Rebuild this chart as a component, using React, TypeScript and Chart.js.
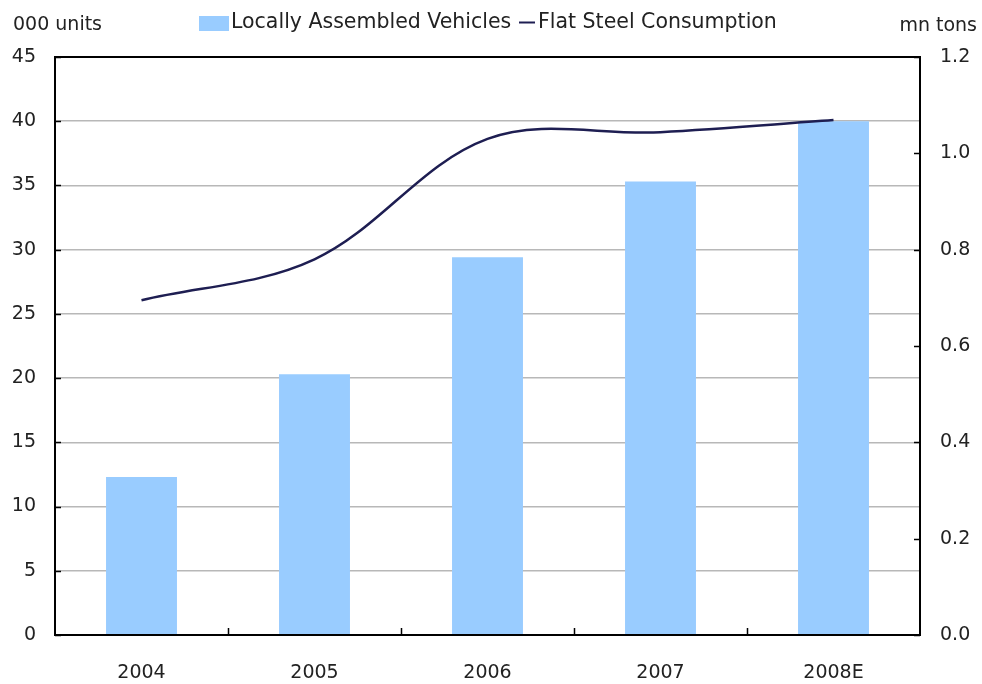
import React, { useEffect, useRef } from "react";
import { Chart, registerables } from "chart.js";

Chart.register(...registerables);

const categories = ["2004", "2005", "2006", "2007", "2008E"];
const vehicles = [12.3, 20.3, 29.4, 35.3, 40.0];
const steel = [0.695, 0.78, 1.03, 1.044, 1.069];
const seriesNames = ["Locally Assembled Vehicles", "Flat Steel Consumption"];
const leftAxisTitle = "000 units";
const rightAxisTitle = "mn tons";
const leftRange = [0, 45, 5];
const rightRange = [0, 1.2, 0.2];

const BAR_COLOR = "#99ccff";
const LINE_COLOR = "#1e1e52";
const TEXT_COLOR = "#222222";
const FONT = "DejaVu Sans";

const framePlugin = {
  id: "frame",
  afterDatasetsDraw(chart: any) {
    const { ctx, chartArea } = chart;
    const { left, right, top, bottom } = chartArea;
    const x = chart.scales.x;
    const y = chart.scales.y;
    const y1 = chart.scales.y1;
    ctx.save();
    ctx.strokeStyle = "#000000";
    ctx.lineWidth = 1.5;
    ctx.beginPath();
    y.ticks.forEach((t: any) => {
      const py = Math.round(y.getPixelForValue(t.value)) + 0.5;
      ctx.moveTo(left, py);
      ctx.lineTo(left + 6, py);
    });
    y1.ticks.forEach((t: any) => {
      const py = Math.round(y1.getPixelForValue(t.value)) + 0.5;
      ctx.moveTo(right, py);
      ctx.lineTo(right - 6, py);
    });
    for (let i = 0; i < categories.length - 1; i++) {
      const px = Math.round((x.getPixelForValue(i) + x.getPixelForValue(i + 1)) / 2) + 0.5;
      ctx.moveTo(px, bottom);
      ctx.lineTo(px, bottom - 7);
    }
    ctx.stroke();
    ctx.lineWidth = 2;
    ctx.strokeRect(left, top, right - left, bottom - top);
    ctx.restore();
  },
  afterDraw(chart: any) {
    const { ctx } = chart;
    ctx.save();
    ctx.fillStyle = TEXT_COLOR;
    ctx.textBaseline = "middle";
    ctx.font = `19px "${FONT}"`;
    ctx.textAlign = "left";
    ctx.fillText(leftAxisTitle, 13, 25);
    ctx.textAlign = "right";
    ctx.fillText(rightAxisTitle, 977, 26);
    ctx.font = `20.5px "${FONT}"`;
    ctx.textAlign = "left";
    ctx.fillStyle = BAR_COLOR;
    ctx.fillRect(199, 16, 30, 15);
    ctx.fillStyle = TEXT_COLOR;
    ctx.fillText(seriesNames[0], 231, 23);
    ctx.strokeStyle = LINE_COLOR;
    ctx.lineWidth = 2;
    ctx.beginPath();
    ctx.moveTo(519, 22.5);
    ctx.lineTo(535, 22.5);
    ctx.stroke();
    ctx.fillText(seriesNames[1], 538, 23);
    ctx.restore();
  },
};

export default function App() {
  const ref = useRef<HTMLCanvasElement>(null);
  useEffect(() => {
    document.body.style.margin = "0";
    const canvas = ref.current!;
    const chart = new Chart(canvas, {
      type: "bar",
      data: {
        labels: categories,
        datasets: [
          {
            type: "line",
            label: seriesNames[1],
            data: steel,
            yAxisID: "y1",
            borderColor: LINE_COLOR,
            borderWidth: 2.5,
            pointRadius: 0,
            tension: 0.35,
            fill: false,
            order: 0,
          } as any,
          {
            type: "bar",
            label: seriesNames[0],
            data: vehicles,
            yAxisID: "y",
            backgroundColor: BAR_COLOR,
            borderWidth: 0,
            barPercentage: 0.41,
            categoryPercentage: 1,
            order: 1,
          },
        ],
      },
      options: {
        animation: false,
        responsive: false,
        devicePixelRatio: 1,
        layout: { padding: { top: 57, left: 0, right: 0, bottom: 0 } },
        plugins: {
          legend: { display: false },
          tooltip: { enabled: false },
        },
        scales: {
          x: {
            offset: true,
            grid: { display: false, drawTicks: false },
            border: { display: false },
            ticks: {
              color: TEXT_COLOR,
              font: { family: FONT, size: 19 },
              padding: 27,
            },
            afterFit(scale: any) {
              scale.height = 49;
            },
          },
          y: {
            position: "left",
            min: leftRange[0],
            max: leftRange[1],
            grid: { color: "#b8b8b8", lineWidth: 1.5, drawTicks: false },
            border: { display: false },
            ticks: {
              stepSize: leftRange[2],
              color: TEXT_COLOR,
              font: { family: FONT, size: 19 },
              padding: 19,
            },
            afterFit(scale: any) {
              scale.width = 55;
            },
          },
          y1: {
            position: "right",
            min: rightRange[0],
            max: rightRange[1],
            grid: { display: false, drawTicks: false },
            border: { display: false },
            ticks: {
              stepSize: rightRange[2],
              color: TEXT_COLOR,
              font: { family: FONT, size: 19 },
              padding: 20,
              callback: (v: any) => Number(v).toFixed(1),
            },
            afterFit(scale: any) {
              scale.width = 62;
            },
          },
        },
      },
      plugins: [framePlugin],
    });
    return () => chart.destroy();
  }, []);
  return (
    <div style={{ width: 982, height: 684, background: "#ffffff" }}>
      <canvas ref={ref} width={982} height={684} style={{ display: "block" }} />
    </div>
  );
}
